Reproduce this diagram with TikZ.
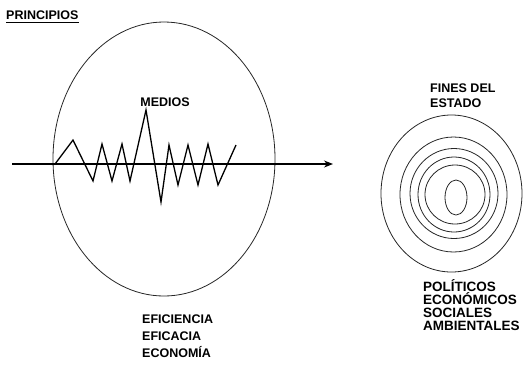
\documentclass[tikz,border=0pt]{standalone}
\usepackage{fontspec}
\setmainfont{Liberation Sans}
\usetikzlibrary{arrows.meta}

\begin{document}
\begin{tikzpicture}[x=1pt, y=-1pt,
  lbl/.style={font=\fontsize{12.5}{15}\selectfont\bfseries, inner sep=0pt, align=left},
  ring/.style={draw=black!85, line width=0.8pt},
  axis/.style={-{Stealth[length=9pt, width=7pt]}, line width=1.3pt},
  wave/.style={line width=1.3pt, line join=miter}]
\useasboundingbox (0,0) rectangle (525,368);
% titulo
\node[lbl, anchor=west] (principios) at (6,15) {PRINCIPIOS};
\draw[line width=1.3pt] ([yshift=-3pt]principios.south west) -- ([yshift=-3pt]principios.south east);
% principios: ovalo grande con eje y medios
\draw[ring] (164,159) ellipse [x radius=111pt, y radius=137pt];
\coordinate (axL) at (12,164);
\coordinate (axR) at (333,164);
\draw[axis] (axL) -- (axR);
\draw[wave] (55,164) -- (73,140) -- (93,181) -- (102,144) -- (112,181) -- (122,144)
  -- (130,181) -- (146,110) -- (161,202) -- (169,145) -- (178,185) -- (188,145)
  -- (198,185) -- (208,144) -- (218,185) -- (236,145);
\node[lbl] (medios) at (165,102) {MEDIOS};
\node[lbl, anchor=west, font=\fontsize{12.5}{17}\selectfont\bfseries] (eficiencia) at (142,336.3) {EFICIENCIA\\EFICACIA\\ECONOMÍA};
% fines del estado: anillos
\draw[ring] (451.5,193.5) ellipse [x radius=70.5pt, y radius=78.5pt];
\draw[ring] (453.5,194.5) ellipse [x radius=53.5pt, y radius=57.5pt];
\draw[ring] (454,193.5) ellipse [x radius=44pt, y radius=45pt];
\draw[ring] (454,194.5) ellipse [x radius=36pt, y radius=37.5pt];
\draw[ring] (455,194.5) ellipse [x radius=30pt, y radius=29.5pt];
\draw[ring] (456,197.5) ellipse [x radius=11pt, y radius=17.5pt];
\node[lbl, anchor=west] (fines) at (430,95.5) {FINES DEL\\ESTADO};
\node[lbl, anchor=west, font=\fontsize{13.5}{13}\selectfont\bfseries] (politicos) at (423,305.5) {POLÍTICOS\\ECONÓMICOS\\SOCIALES\\AMBIENTALES};
\end{tikzpicture}
\end{document}
